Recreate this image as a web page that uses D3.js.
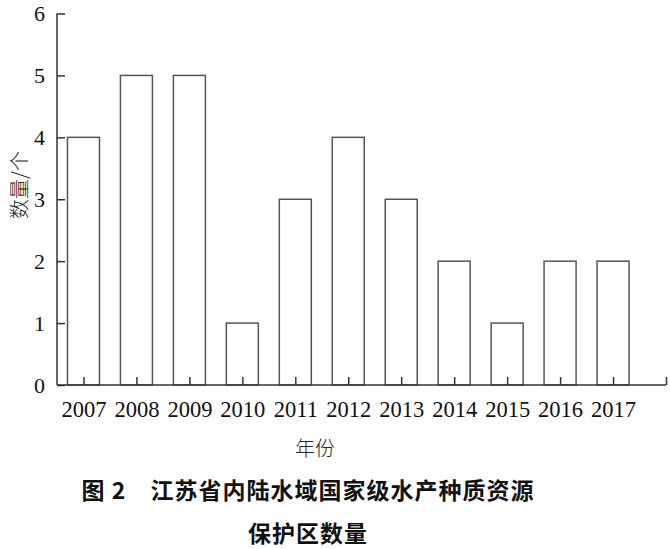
<!DOCTYPE html>
<html><head><meta charset="utf-8">
<script src="https://cdn.jsdelivr.net/npm/d3@7"></script>
<style>body{margin:0;background:#fff}</style>
</head><body>
<svg id="c" width="670" height="549"></svg>
<script>
const categories = ["2007","2008","2009","2010","2011","2012","2013","2014","2015","2016","2017"];
const values = [4,5,5,1,3,4,3,2,1,2,2];
const yTicks = [0,1,2,3,4,5,6];
const xTitle = "年份";
const yTitle = "数量/个";
const titleLine1 = "图 2　江苏省内陆水域国家级水产种质资源";
const titleLine2 = "保护区数量";

(function(){
const svg = d3.select("#c");
const mL = 57, mR = 666, mT = 13.5, mB = 385;
const x = d3.scaleLinear().domain([-0.5, categories.length]).range([mL, mR]);
const y = d3.scaleLinear().domain([0, 6]).range([mB, mT]);
const bw = 32;
const serif = "'Liberation Serif','Times New Roman',serif";

svg.append("g").selectAll("rect").data(values).join("rect")
  .attr("x", (d,i) => x(i) - bw/2)
  .attr("y", d => y(d))
  .attr("width", bw)
  .attr("height", d => y(0) - y(d))
  .attr("fill", "#fff").attr("stroke", "#555").attr("stroke-width", 1.5);

// y axis
const ya = svg.append("g").attr("transform", `translate(${mL},0)`)
  .call(d3.axisLeft(y).tickValues(yTicks).tickSize(-8).tickPadding(12).tickFormat(d3.format("d")));
ya.select(".domain").attr("stroke", "#333").attr("stroke-width", 1.5).attr("d", `M0,${mT}V${mB}`);
ya.selectAll(".tick line").attr("stroke", "#333").attr("stroke-width", 1.5);
ya.selectAll(".tick text").attr("font-family", serif).attr("font-size", 22).attr("fill", "#111");

// x axis
const xTickVals = d3.range(categories.length + 1);
const xa = svg.append("g").attr("transform", `translate(0,${mB})`)
  .call(d3.axisBottom(x).tickValues(xTickVals).tickSize(-8).tickPadding(16)
    .tickFormat(i => categories[i] || ""));
xa.select(".domain").attr("stroke", "#333").attr("stroke-width", 1.5).attr("d", `M${mL},0H${mR}`);
xa.selectAll(".tick line").attr("stroke", "#333").attr("stroke-width", 1.5);
xa.selectAll(".tick text").attr("font-family", serif).attr("font-size", 22.5).attr("fill", "#111");

const cjk = "'Noto Sans CJK SC',sans-serif";
svg.append("text").attr("x", 315).attr("y", 447).attr("text-anchor", "middle")
  .attr("dominant-baseline", "central").attr("font-family", cjk).attr("font-weight", 300)
  .attr("font-size", 20).attr("fill", "#222").text(xTitle);
svg.append("text").attr("transform", "translate(18,185) rotate(-90)").attr("text-anchor", "middle")
  .attr("dominant-baseline", "central").attr("font-family", cjk).attr("font-weight", 300)
  .attr("font-size", 20).attr("fill", "#222").text(yTitle);
svg.append("text").attr("x", 308).attr("y", 489).attr("text-anchor", "middle")
  .attr("dominant-baseline", "central").attr("font-family", cjk).attr("font-weight", 700)
  .attr("font-size", 23).attr("letter-spacing", 1).attr("fill", "#111").text(titleLine1);
svg.append("text").attr("x", 308).attr("y", 532).attr("text-anchor", "middle")
  .attr("dominant-baseline", "central").attr("font-family", cjk).attr("font-weight", 700)
  .attr("font-size", 23).attr("letter-spacing", 1).attr("fill", "#111").text(titleLine2);
})();
</script>
</body></html>
